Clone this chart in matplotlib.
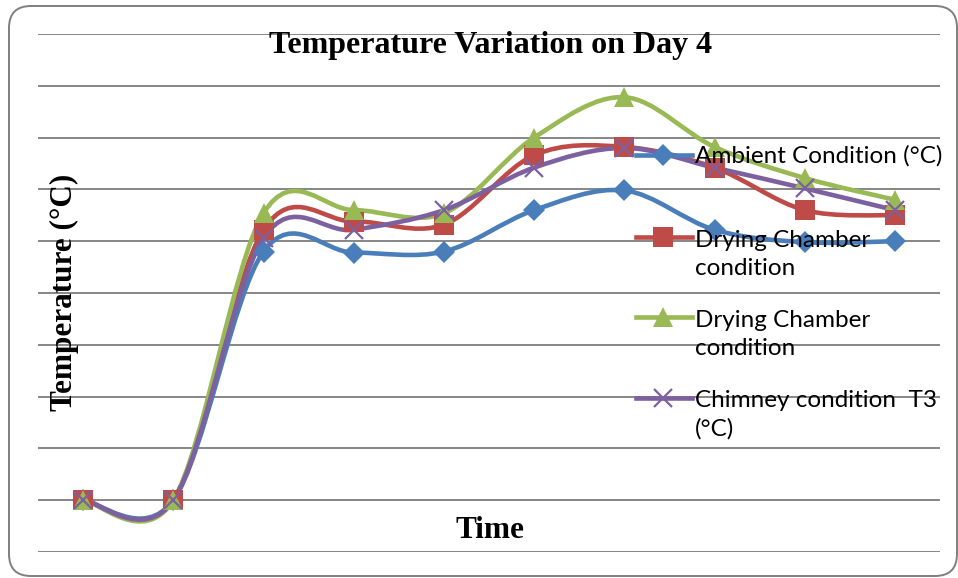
import numpy as np
import matplotlib.pyplot as plt
from matplotlib.path import Path
from matplotlib.patches import PathPatch, FancyBboxPatch
from matplotlib.lines import Line2D

# readings (no tick labels on the original, so values are in grid units of 5)
time_idx = np.arange(10)
ambient = [5.0, 5.0, 29.0, 28.9, 29.0, 33.0, 34.9, 31.1, 29.9, 30.0]
drying1 = [5.0, 5.0, 31.1, 31.9, 31.6, 38.3, 39.1, 37.1, 33.0, 32.5]
drying2 = [5.0, 5.0, 32.7, 33.0, 32.7, 40.0, 43.9, 39.1, 36.1, 34.0]
chimney = [5.0, 5.0, 30.3, 31.1, 33.0, 37.1, 39.0, 37.1, 35.1, 33.0]

labels = ["Ambient Condition (°C)", "Drying Chamber\ncondition",
          "Drying Chamber\ncondition", "Chimney condition  T3\n(°C)"]
colors = ["#4A7EBB", "#BE4B48", "#98B954", "#7D60A0"]
markers = ["D", "s", "^", "x"]
msizes = [11, 14, 14, 13]


def smooth_path(x, y):
    # excel style smoothed line: cubic bezier through each point
    p = np.column_stack([x, y]).astype(float)
    n = len(p)
    verts = [p[0]]
    codes = [Path.MOVETO]
    for i in range(n - 1):
        p0 = p[max(i - 1, 0)]
        p3 = p[min(i + 2, n - 1)]
        c1 = p[i] + (p[i + 1] - p0) / 6.0
        c2 = p[i + 1] - (p3 - p[i]) / 6.0
        verts += [c1, c2, p[i + 1]]
        codes += [Path.CURVE4] * 3
    return Path(verts, codes)


fig = plt.figure(figsize=(9.58, 5.78), dpi=100)
ax = fig.add_axes([38/958, 26/578, 902/958, 518/578])

xs = time_idx + 0.5
for ys, c, m, ms in zip([ambient, drying1, drying2, chimney], colors, markers, msizes):
    ax.add_patch(PathPatch(smooth_path(xs, ys), facecolor="none", edgecolor=c,
                           lw=3.3, capstyle="round", joinstyle="round", zorder=3))
    if m == "x":
        ax.plot(xs, ys, ls="none", marker=m, ms=ms, mew=1.6, color=c, zorder=4)
    else:
        ax.plot(xs, ys, ls="none", marker=m, ms=ms, mew=0, color=c, zorder=4)

ax.set_xlim(0, 10)
ax.set_ylim(0, 50)
ax.set_yticks(np.arange(0, 51, 5))
ax.set_xticks([])
ax.tick_params(left=False, labelleft=False)
ax.grid(axis="y", color="#868686", lw=1.4)
ax.set_axisbelow(True)
for s in ax.spines.values():
    s.set_visible(False)
ax.patch.set_alpha(0)

# legend drawn by hand so the marker sits on the first text line
rows = [155, 237, 317, 398]
for lab, c, m, ms, r in zip(labels, colors, markers, msizes, rows):
    yf = 1 - r / 578
    fig.add_artist(Line2D([636/958, 692/958], [yf, yf], color=c, lw=3.3,
                          transform=fig.transFigure))
    fig.add_artist(Line2D([663/958], [yf], color=c, marker=m, ms=ms,
                          mew=1.6 if m == "x" else 0, transform=fig.transFigure))
    nl = lab.count("\n")
    fig.text(695/958, 1 - (r + 8 + 30 * nl)/578, lab, fontsize=17.5, family="Lato",
             va="baseline", ha="left", linespacing=1.42)

serif = "Liberation Serif"
fig.text(491/958, 1 - 45/578, "Temperature Variation on Day 4", fontsize=23,
         fontweight="bold", family=serif, ha="center", va="center")
fig.text(64/958, 1 - 292/578, "Temperature (°C)", fontsize=22.5, fontweight="bold",
         family=serif, rotation=90, ha="center", va="center")
fig.text(490/958, 1 - 530/578, "Time", fontsize=22.5, fontweight="bold",
         family=serif, ha="center", va="center")

fig.add_artist(FancyBboxPatch((0.09, 0.02), 9.48, 5.70,
                              boxstyle="round,pad=0,rounding_size=0.22",
                              transform=fig.dpi_scale_trans, facecolor="none",
                              edgecolor="#7F7F7F", lw=1.4))

fig.savefig("out.png", dpi=100)
